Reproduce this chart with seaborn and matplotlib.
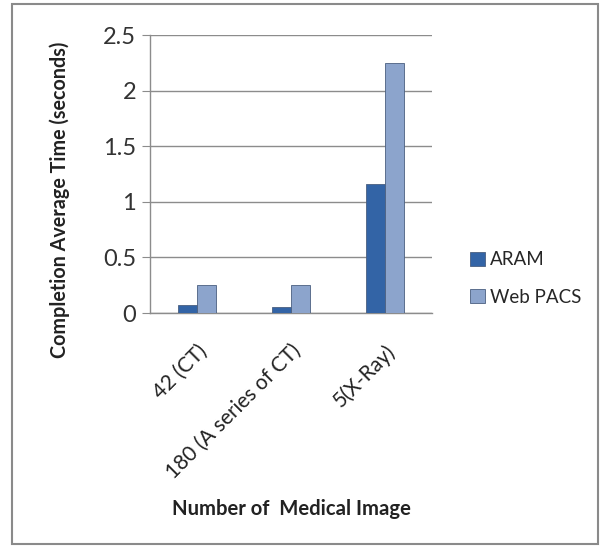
import matplotlib
matplotlib.use("Agg")
import matplotlib.pyplot as plt
import matplotlib.transforms as mtransforms
import seaborn as sns
import pandas as pd

categories = ["42 (CT)", "180 (A series of CT)", "5(X-Ray)"]
series = ["ARAM", "Web PACS"]
aram = [0.07, 0.05, 1.16]
web_pacs = [0.25, 0.25, 2.25]
yticks = [0, 0.5, 1, 1.5, 2, 2.5]

df = pd.DataFrame({
    "category": categories * 2,
    "series": [series[0]] * 3 + [series[1]] * 3,
    "value": aram + web_pacs,
})

sns.set_theme(style="white")
plt.rcParams["font.family"] = ["Lato", "DejaVu Sans"]

W, H = 603, 548
fig = plt.figure(figsize=(W / 100, H / 100), dpi=100)
ax = fig.add_axes([150 / W, 1 - 313 / H, 282 / W, 278 / H])

palette = {"ARAM": "#3364a6", "Web PACS": "#8ca4cc"}
sns.barplot(data=df, x="category", y="value", hue="series", order=categories,
            hue_order=series, palette=palette, width=0.4, saturation=1,
            edgecolor="#4a5f80", linewidth=0.6, ax=ax, legend=True, zorder=3)

ax.set_ylim(0, 2.5)
ax.set_yticks(yticks)
ax.set_yticklabels([f"{t:g}" for t in yticks], fontsize=17, color="#333333")
ax.yaxis.grid(True, color="#8c8c8c", linewidth=1.0, zorder=0)
ax.set_axisbelow(True)
ax.tick_params(axis="y", length=6, width=0.8, color="#8c8c8c", left=True, pad=4)
ax.tick_params(axis="x", length=0, pad=20)
ax.set_xticks(range(len(categories)))
ax.set_xticklabels(categories, rotation=45, ha="right", rotation_mode="anchor",
                   fontsize=15, color="#222222")
for side in ["top", "right"]:
    ax.spines[side].set_visible(False)
for side in ["left", "bottom"]:
    ax.spines[side].set_color("#8c8c8c")
    ax.spines[side].set_linewidth(1.0)

ax.set_ylabel("Completion Average Time (seconds)", fontsize=14.2,
              fontweight="bold", color="#222222")
ax.yaxis.set_label_coords((60 - 150) / 282, (313 - 200) / 278)
ax.set_xlabel("Number of  Medical Image", fontsize=14.6, fontweight="bold",
              color="#222222")
ax.xaxis.set_label_coords(0.5, -(509 - 313) / 278)
ax.xaxis.label.set_va("center")
ax.yaxis.label.set_va("center")

ax.legend(loc="center left", bbox_to_anchor=(470 / W, 1 - 278.5 / H),
          bbox_transform=fig.transFigure, frameon=False, fontsize=13.5,
          handlelength=0.8, handleheight=0.8, handletextpad=0.25,
          labelspacing=1.1, borderpad=0, borderaxespad=0)

fig.patches.append(plt.Rectangle((12 / W, 4 / H), 586 / W, 540 / H,
                                 transform=fig.transFigure, fill=False,
                                 edgecolor="#8a8a8a", linewidth=1.5))

fig.savefig("out.png", dpi=100)
